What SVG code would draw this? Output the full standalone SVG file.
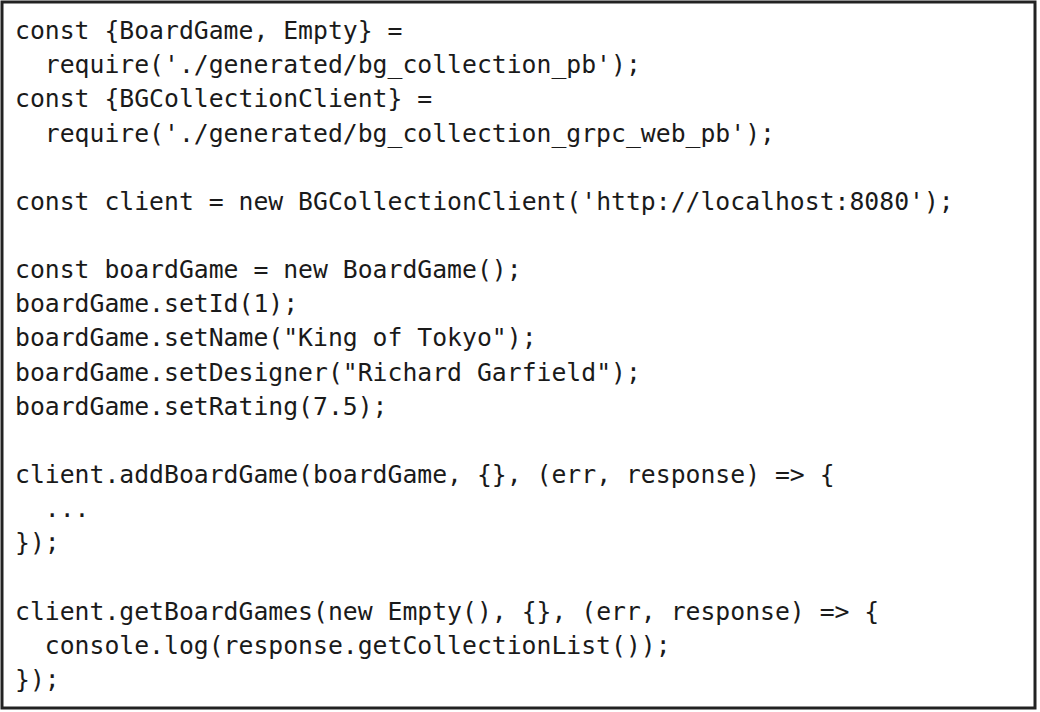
<svg xmlns="http://www.w3.org/2000/svg" width="1040" height="712" viewBox="0 0 1040 712">
<style>
.code{font-family:"DejaVu Sans Mono","Liberation Mono",monospace;font-size:24.75px;fill:#1a1a1a}
</style>
<rect x="0" y="0" width="1040" height="712" fill="#ffffff"/>
<rect x="2" y="2" width="1033" height="706" fill="#ffffff" stroke="#222222" stroke-width="3"/>
<g id="code" class="code">
<text x="15" y="39">const {BoardGame, Empty} =</text>
<text x="44.8" y="73.2">require('./generated/bg_collection_pb');</text>
<text x="15" y="107.3">const {BGCollectionClient} =</text>
<text x="44.8" y="141.5">require('./generated/bg_collection_grpc_web_pb');</text>
<text x="15" y="209.8">const client = new BGCollectionClient('http://localhost:8080');</text>
<text x="15" y="278">const boardGame = new BoardGame();</text>
<text x="15" y="312.2">boardGame.setId(1);</text>
<text x="15" y="346.4">boardGame.setName("King of Tokyo");</text>
<text x="15" y="380.5">boardGame.setDesigner("Richard Garfield");</text>
<text x="15" y="414.7">boardGame.setRating(7.5);</text>
<text x="15" y="483">client.addBoardGame(boardGame, {}, (err, response) =&gt; {</text>
<text x="44.8" y="517.2">...</text>
<text x="15" y="551.4">});</text>
<text x="15" y="619.7">client.getBoardGames(new Empty(), {}, (err, response) =&gt; {</text>
<text x="44.8" y="653.8">console.log(response.getCollectionList());</text>
<text x="15" y="688">});</text>
</g>
</svg>
